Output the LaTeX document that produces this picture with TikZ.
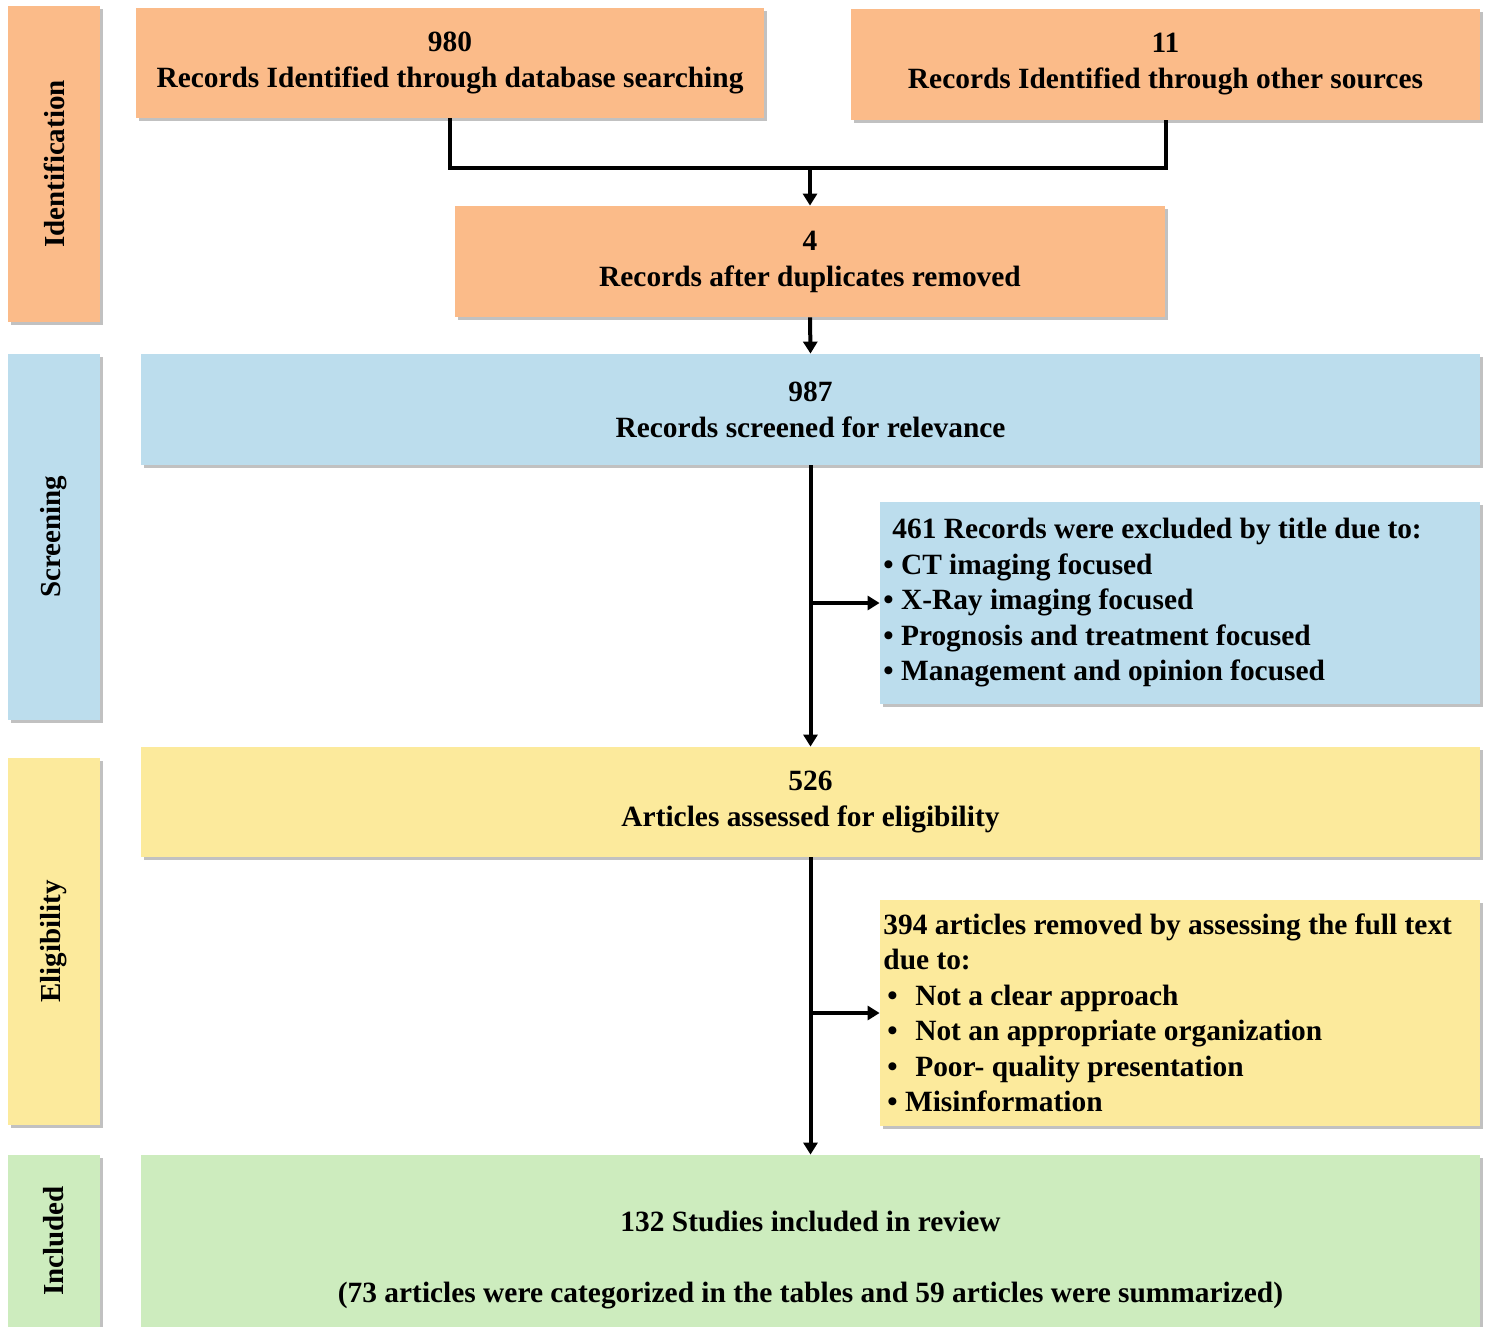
\documentclass[tikz,border=0pt]{standalone}
\usepackage{fontspec}
\setmainfont{Liberation Serif}
\usetikzlibrary{arrows.meta,shadows}
\definecolor{corange}{RGB}{251,187,137}
\definecolor{cblue}{RGB}{188,221,237}
\definecolor{cyellow}{RGB}{252,234,156}
\definecolor{cgreen}{RGB}{205,236,190}
\tikzset{
  box/.style={fill=#1, draw=none, inner sep=0pt, align=center,
    font=\fontsize{14.7}{18}\selectfont\bfseries,
    drop shadow={shadow xshift=1.5pt, shadow yshift=-1.5pt, opacity=0.35, fill=black!70}},
  sidebox/.style={box=#1, minimum width=46pt},
  sidelabel/.style={rotate=90, font=\fontsize{14.5}{16}\selectfont\bfseries},
  listtext/.style={anchor=west, align=left, inner sep=0pt, font=\fontsize{14.7}{17.75}\selectfont\bfseries},
  conn/.style={line width=2pt, black},
  arr/.style={conn, -{Triangle[width=7pt,length=6pt]}}
}
\begin{document}
\begin{tikzpicture}[x=0.5pt,y=-0.5pt]
\useasboundingbox (0,0) rectangle (1489,1327);
% side boxes
\node[sidebox=corange, minimum height=158pt] (sid) at (54,164) {};
\node[sidelabel] (lid) at (54,164) {Identification};
\node[sidebox=cblue, minimum height=183pt] (ssc) at (54,537) {};
\node[sidelabel] (lsc) at (54,537) {Screening};
\node[sidebox=cyellow, minimum height=183.5pt] (sel) at (54,941.5) {};
\node[sidelabel] (lel) at (54,941.5) {Eligibility};
\node[sidebox=cgreen, minimum height=105pt] (sin) at (54,1260) {};
\node[sidelabel] (lin) at (54,1241) {Included};
% main boxes
\node[box=corange, minimum width=314pt, minimum height=55pt] (db) at (450,63)
  {980\\Records Identified through database searching};
\node[box=corange, minimum width=314.5pt, minimum height=55.5pt] (oth) at (1165.5,64.5)
  {11\\Records Identified through other sources};
\node[box=corange, minimum width=355pt, minimum height=55.5pt] (dup) at (810,261.5)
  {4\\Records after duplicates removed};
\node[box=cblue, minimum width=669.5pt, minimum height=55.5pt] (scr) at (810.5,409.5)
  {987\\Records screened for relevance};
\node[box=cblue, minimum width=300pt, minimum height=101pt] (exa) at (1180,603) {};
\node[listtext] (exat) at (883,603)
  {\hspace{4.5pt}461 Records were excluded by title due to:\\
   \textbullet\ CT imaging focused\\
   \textbullet\ X-Ray imaging focused\\
   \textbullet\ Prognosis and treatment focused\\
   \textbullet\ Management and opinion focused};
\node[box=cyellow, minimum width=669.5pt, minimum height=55pt] (eli) at (810.5,802)
  {526\\Articles assessed for eligibility};
\node[box=cyellow, minimum width=300pt, minimum height=113pt] (exb) at (1180,1013) {};
\node[listtext] (exbt) at (883,1013)
  {394 articles removed by assessing the full text\\
   due to:\\
   \hspace{2pt}\textbullet\hspace{0.6em}Not a clear approach\\
   \hspace{2pt}\textbullet\hspace{0.6em}Not an appropriate organization\\
   \hspace{2pt}\textbullet\hspace{0.6em}Poor- quality presentation\\
   \hspace{2pt}\textbullet\ Misinformation};
\node[box=cgreen, minimum width=669.5pt, minimum height=105pt, font=\fontsize{14.7}{17.75}\selectfont\bfseries] (inc) at (810.5,1260)
  {132 Studies included in review\\[17.75pt](73 articles were categorized in the tables and 59 articles were summarized)};
% connectors
\coordinate (mrg) at (810,168);
\draw[conn] (db.south) |- (mrg) -| (oth.south);
\draw[arr] (mrg) -- (dup.north);
\draw[arr] (dup.south) -- (scr.north);
\draw[arr] (scr.south) -- (eli.north);
\draw[arr] (scr.south |- exa.west) -- (exa.west);
\draw[arr] (eli.south) -- (inc.north);
\draw[arr] (eli.south |- exb.west) -- (exb.west);
\end{tikzpicture}
\end{document}
